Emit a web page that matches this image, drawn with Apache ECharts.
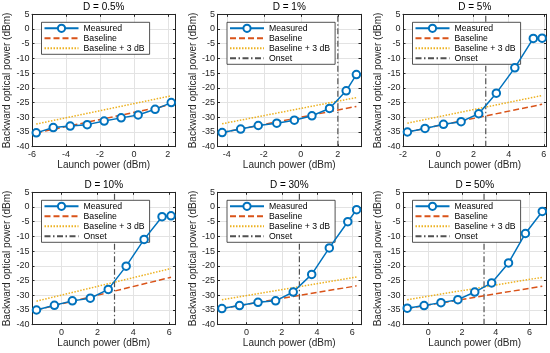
<!DOCTYPE html>
<html>
<head>
<meta charset="utf-8">
<script src="https://cdn.jsdelivr.net/npm/echarts@6/dist/echarts.min.js"></script>
<style>
  html, body { margin: 0; padding: 0; background: #fff; }
  #chart { width: 550px; height: 353px; }
</style>
</head>
<body>
<div id="chart"></div>
<script>
// panel titles
const titles = ['D = 0.5%', 'D = 1%', 'D = 5%', 'D = 10%', 'D = 30%', 'D = 50%'];

// launch power (dBm) of each measured point, per panel
const measuredX = [
  [-5.75, -4.75, -3.75, -2.75, -1.75, -0.75, 0.25, 1.25, 2.2],
  [-4.25, -3.25, -2.3, -1.3, -0.35, 0.6, 1.55, 2.45, 3.0],
  [-1.75, -0.75, 0.3, 1.3, 2.3, 3.3, 4.35, 5.4, 5.9],
  [-1.4, -0.4, 0.6, 1.6, 2.6, 3.6, 4.6, 5.6, 6.1],
  [-1.4, -0.4, 0.65, 1.65, 2.65, 3.7, 4.7, 5.75, 6.25],
  [-1.25, -0.25, 0.75, 1.75, 2.75, 3.75, 4.75, 5.75, 6.75]
];
// backward optical power (dBm), per panel
const measuredY = [
  [-35.3, -33.5, -33.0, -32.5, -31.3, -30.2, -29.2, -27.3, -25.0],
  [-35.2, -34.0, -32.8, -32.0, -31.0, -29.5, -27.0, -21.0, -15.5],
  [-35.0, -33.8, -32.4, -31.5, -28.8, -21.8, -13.2, -3.2, -3.1],
  [-35.0, -33.4, -31.9, -31.0, -28.0, -20.1, -11.0, -3.3, -3.0],
  [-34.5, -33.5, -32.4, -31.9, -28.9, -22.9, -13.9, -5.0, -0.9],
  [-34.4, -33.5, -32.5, -31.5, -28.9, -25.8, -19.0, -9.0, -1.5]
];
// baseline end points
const baselineX = [
  [-5.75, 2.2], [-4.25, 3.0], [-1.75, 5.9], [-1.4, 6.1], [-1.4, 6.25], [-1.25, 6.75]
];
const baselineY = [
  [-35.3, -25.7], [-35.2, -26.3], [-35.0, -25.6], [-35.0, -23.9], [-34.5, -26.8], [-34.5, -26.9]
];
const baseline3Y = [
  [-32.3, -22.7], [-32.2, -23.3], [-32.0, -22.6], [-32.0, -20.9], [-31.5, -23.8], [-31.5, -23.9]
];
// onset launch power (null = none)
const onsetX = [null, 2.0, 2.7, 2.95, 3.0, 3.3];
// x-axis limits per panel
const xLimits = [
  [-6, 2.45], [-4.5, 3.25], [-2.0, 6.15], [-1.65, 6.35], [-1.65, 6.5], [-1.5, 7.0]
];
const yMin = -40, yMax = 5, yStep = 5;
const xStep = 2;

const font = 'Liberation Sans, Arial, Helvetica, sans-serif';
const ink = '#262626';
const gridColor = '#e3e3e3';
const clear = 'rgba(0,0,0,0)';

// layout
const colLeft = [32, 217.5, 403];
const rowTop = [14.3, 192.3];
const plotW = 143.5, plotH = 132.4;

const grids = [], xAxes = [], yAxes = [], series = [], legends = [], titleList = [];

const xFmt = v => (Math.abs(v / xStep - Math.round(v / xStep)) < 1e-6 ? String(Math.round(v)) : '');

titles.forEach((t, i) => {
  const left = colLeft[i % 3];
  const top = rowTop[Math.floor(i / 3)];
  grids.push({
    left: left, top: top, width: plotW, height: plotH,
    containLabel: false, outerBoundsMode: 'none'
  });
  titleList.push({
    text: t, left: left + plotW / 2, top: top - 12, textAlign: 'center', padding: 0,
    textStyle: { fontFamily: font, fontSize: 10, fontWeight: 'normal', color: '#000' }
  });

  const xBase = {
    type: 'value', gridIndex: i, min: xLimits[i][0], max: xLimits[i][1],
    axisLine: { show: true, onZero: false, lineStyle: { color: ink, width: 1 } },
    axisTick: { show: true, inside: true, length: 2.5, lineStyle: { color: ink } }
  };
  xAxes.push(Object.assign({}, xBase, {
    position: 'bottom',
    name: 'Launch power (dBm)', nameLocation: 'middle', nameGap: 13.5,
    nameTextStyle: { fontFamily: font, fontSize: 10, color: ink },
    axisLabel: { show: true, margin: 3.5, fontFamily: font, fontSize: 9, color: ink, formatter: xFmt },
    splitLine: { show: true, showMinLine: false, showMaxLine: false, lineStyle: { color: gridColor, width: 1 } }
  }));
  xAxes.push(Object.assign({}, xBase, {
    position: 'top',
    axisLabel: { show: false }, splitLine: { show: false }
  }));

  const yBase = {
    type: 'value', gridIndex: i, min: yMin, max: yMax, interval: yStep,
    axisLine: { show: true, onZero: false, lineStyle: { color: ink, width: 1 } },
    axisTick: { show: true, inside: true, length: 2.5, lineStyle: { color: ink } }
  };
  yAxes.push(Object.assign({}, yBase, {
    position: 'left',
    name: 'Backward optical power (dBm)', nameLocation: 'middle', nameGap: 16,
    nameTextStyle: { fontFamily: font, fontSize: 10, color: ink },
    axisLabel: { show: true, margin: 2.5, fontFamily: font, fontSize: 9, color: ink },
    splitLine: { show: true, showMinLine: false, showMaxLine: false, lineStyle: { color: gridColor, width: 1 } }
  }));
  yAxes.push(Object.assign({}, yBase, {
    position: 'right',
    axisLabel: { show: false }, splitLine: { show: false }
  }));

  const xi = 2 * i;
  const names = ['Measured', 'Baseline', 'Baseline + 3 dB'];

  series.push({
    name: 'Baseline', type: 'line', xAxisIndex: xi, yAxisIndex: xi,
    data: baselineX[i].map((x, k) => [x, baselineY[i][k]]),
    symbol: 'none', z: 2,
    lineStyle: { color: '#D95319', width: 1.5, type: [6, 3] },
    itemStyle: { color: clear, borderColor: clear, borderWidth: 0 }
  });
  series.push({
    name: 'Baseline + 3 dB', type: 'line', xAxisIndex: xi, yAxisIndex: xi,
    data: baselineX[i].map((x, k) => [x, baseline3Y[i][k]]),
    symbol: 'none', z: 2,
    lineStyle: { color: '#EDB120', width: 1.5, type: [1.5, 1.5] },
    itemStyle: { color: clear, borderColor: clear, borderWidth: 0 }
  });
  if (onsetX[i] !== null) {
    names.push('Onset');
    series.push({
      name: 'Onset', type: 'line', xAxisIndex: xi, yAxisIndex: xi,
      data: [[onsetX[i], yMin], [onsetX[i], yMax]],
      symbol: 'none', z: 1,
      lineStyle: { color: '#505050', width: 1.2, type: [6, 2.5, 1.5, 2.5] },
      itemStyle: { color: clear, borderColor: clear, borderWidth: 0 }
    });
  }
  series.push({
    name: 'Measured', type: 'line', xAxisIndex: xi, yAxisIndex: xi,
    data: measuredX[i].map((x, k) => [x, measuredY[i][k]]),
    symbol: 'emptyCircle', symbolSize: 7.5, z: 4,
    lineStyle: { color: '#0072BD', width: 1.5 },
    itemStyle: { color: '#0072BD', borderColor: '#0072BD', borderWidth: 1.5 }
  });

  legends.push({
    data: names, orient: 'vertical',
    left: left + 9.5, top: top + 8,
    itemWidth: 34, itemHeight: 9, itemGap: 0,
    padding: [1, 5, 1, 2],
    backgroundColor: '#fff', borderColor: ink, borderWidth: 0.8, borderRadius: 0,
    selectedMode: false,
    textStyle: { fontFamily: font, fontSize: 8.7, color: '#000', lineHeight: 10 }
  });
});

const chart = echarts.init(document.getElementById('chart'));
chart.setOption({
  animation: false,
  backgroundColor: '#fff',
  textStyle: { fontFamily: font },
  title: titleList,
  grid: grids,
  xAxis: xAxes,
  yAxis: yAxes,
  legend: legends,
  series: series
});
</script>
</body>
</html>
